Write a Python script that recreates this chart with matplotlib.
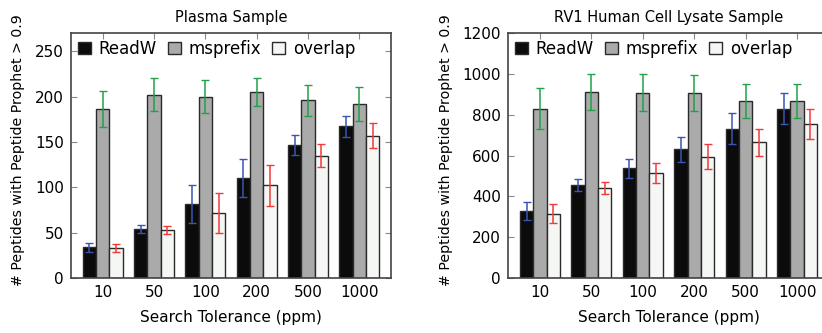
import matplotlib
matplotlib.use("Agg")
import matplotlib.pyplot as plt
import numpy as np

plt.rcParams['font.family'] = ['DejaVu Sans']

categories = ['10', '50', '100', '200', '500', '1000']
series_names = ['ReadW', 'msprefix', 'overlap']

plasma_readw = [34, 54, 82, 110, 147, 167]
plasma_readw_err = [5, 4, 21, 21, 11, 12]
plasma_msprefix = [186, 202, 200, 205, 196, 192]
plasma_msprefix_err = [20, 18, 18, 15, 17, 19]
plasma_overlap = [33, 53, 72, 102, 135, 157]
plasma_overlap_err = [4, 4, 22, 23, 13, 14]

rv1_readw = [328, 455, 537, 630, 732, 830]
rv1_readw_err = [45, 30, 47, 63, 77, 75]
rv1_msprefix = [830, 912, 907, 907, 865, 865]
rv1_msprefix_err = [100, 88, 90, 88, 83, 83]
rv1_overlap = [315, 440, 515, 595, 664, 754]
rv1_overlap_err = [47, 31, 50, 62, 68, 73]

bar_colors = ['#0b0b0b', '#aaaaaa', '#f5f7f5']
err_colors = ['#3a55b5', '#22a04a', '#f03a3a']

W, H = 822, 333
fig = plt.figure(figsize=(W / 100, H / 100), dpi=100)
ax1 = fig.add_axes([71 / W, (H - 278) / H, 320 / W, 245 / H])
ax2 = fig.add_axes([508 / W, (H - 278) / H, 321 / W, 245 / H])

def draw(ax, vals, errs, title, ylim, yticks, ylab_x):
    x = np.arange(len(categories))
    w = 0.26
    for i, (v, e) in enumerate(zip(vals, errs)):
        xi = x + (i - 1) * w
        ax.bar(xi, v, width=w, color=bar_colors[i], edgecolor='#2a2a2a',
               linewidth=1.0, label=series_names[i], zorder=2)
        ax.errorbar(xi, v, yerr=e, fmt='none', ecolor=err_colors[i],
                    elinewidth=1.1, capsize=3, capthick=1.0, zorder=3)
    ax.set_xlim(-0.62, 5.62)
    ax.set_ylim(*ylim)
    ax.set_yticks(yticks)
    ax.set_xticks(x)
    ax.set_xticklabels(categories, fontsize=11)
    ax.tick_params(axis='y', labelsize=11)
    ax.tick_params(direction='in', top=True, right=True, length=4,
                   color='#888888', width=0.8, pad=5)
    for s in ax.spines.values():
        s.set_color('#444444')
        s.set_linewidth(1.2)
    ax.set_title(title, fontsize=10.5, pad=8)
    ax.set_xlabel('Search Tolerance (ppm)', fontsize=11, labelpad=7)
    ax.set_ylabel('# Peptides with Peptide Prophet > 0.9', fontsize=10.2)
    ax.yaxis.set_label_coords(ylab_x, 0.52)
    ax.legend(loc='upper left', ncol=3, frameon=False, fontsize=12,
              handlelength=0.8, handleheight=0.75, handletextpad=0.45,
              columnspacing=0.65, borderaxespad=0.2, borderpad=0.2)

draw(ax1, [plasma_readw, plasma_msprefix, plasma_overlap],
     [plasma_readw_err, plasma_msprefix_err, plasma_overlap_err],
     'Plasma Sample', (0, 270), [0, 50, 100, 150, 200, 250], -0.145)
draw(ax2, [rv1_readw, rv1_msprefix, rv1_overlap],
     [rv1_readw_err, rv1_msprefix_err, rv1_overlap_err],
     'RV1 Human Cell Lysate Sample', (0, 1200), [0, 200, 400, 600, 800, 1000, 1200], -0.172)

fig.savefig('out.png', dpi=100)
